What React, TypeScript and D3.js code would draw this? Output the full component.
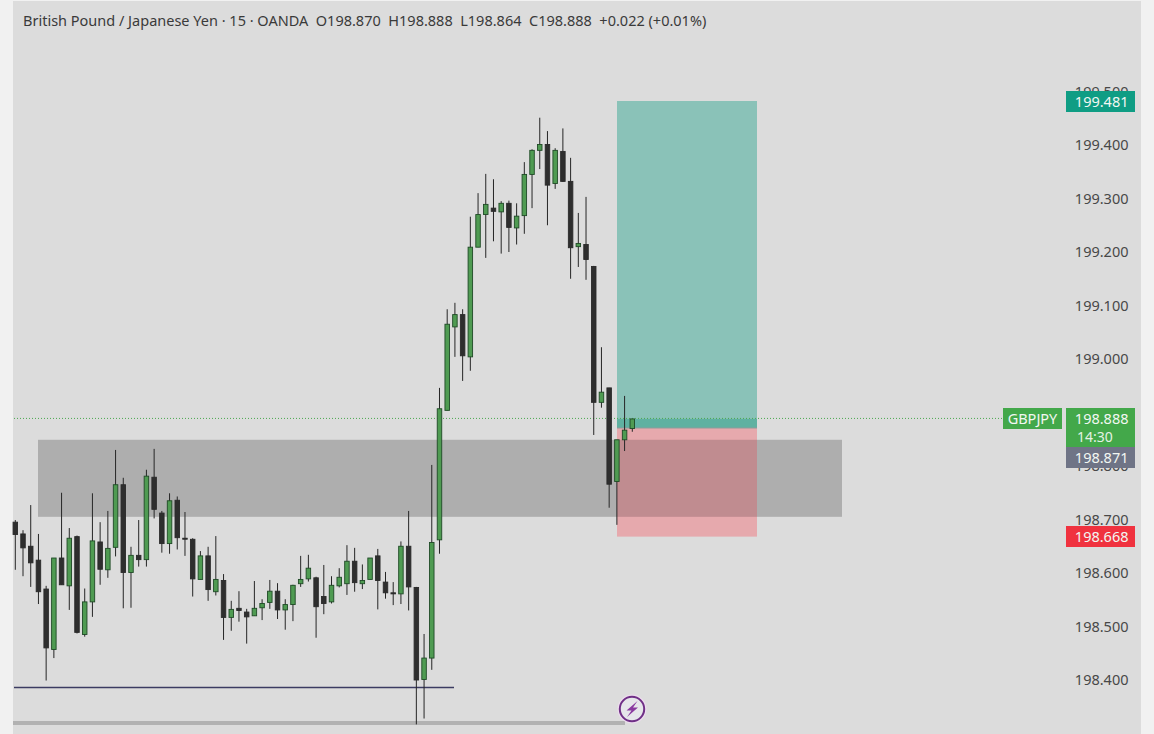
import React from "react";
import * as d3 from "d3";

const title = "British Pound / Japanese Yen · 15 · OANDA  O198.870  H198.888  L198.864  C198.888  +0.022 (+0.01%)";
const tickValues = [199.5, 199.4, 199.3, 199.2, 199.1, 199.0, 198.9, 198.8, 198.7, 198.6, 198.5, 198.4];

const opens = [198.695,198.673,198.650,198.624,198.570,198.457,198.628,198.576,198.668,198.485,198.546,198.658,198.606,198.648,198.765,198.601,198.633,198.625,198.779,198.712,198.655,198.736,198.665,198.663,198.588,198.632,198.565,198.586,198.517,198.534,198.527,198.520,198.535,198.545,198.566,198.531,198.541,198.580,198.589,198.591,198.556,198.546,198.576,198.580,198.622,198.580,198.588,198.632,198.583,198.563,198.561,198.650,198.573,198.401,198.441,198.662,198.904,199.060,199.083,199.004,199.209,199.270,199.282,199.275,199.291,199.245,199.268,199.345,199.390,199.401,199.328,199.388,199.332,199.210,199.214,199.173,198.919,198.946,198.771,198.849,198.870];
const highs = [198.699,198.680,198.727,198.673,198.576,198.628,198.750,198.684,198.670,198.571,198.749,198.695,198.716,198.830,198.778,198.649,198.699,198.793,198.832,198.716,198.749,198.743,198.714,198.665,198.641,198.649,198.669,198.598,198.548,198.566,198.533,198.585,198.551,198.587,198.581,198.551,198.578,198.632,198.634,198.593,198.615,198.594,198.609,198.652,198.647,198.616,198.628,198.645,198.602,198.583,198.659,198.716,198.574,198.486,198.802,198.946,199.093,199.105,199.093,199.266,199.310,199.346,199.336,199.295,199.296,199.291,199.368,199.392,199.451,199.426,199.394,199.431,199.376,199.273,199.303,199.174,199.022,198.946,198.849,198.931,198.888];
const lows = [198.606,198.594,198.574,198.542,198.399,198.441,198.578,198.531,198.487,198.481,198.518,198.578,198.591,198.631,198.534,198.535,198.612,198.612,198.702,198.638,198.636,198.644,198.632,198.556,198.588,198.548,198.558,198.475,198.492,198.509,198.468,198.520,198.512,198.533,198.514,198.494,198.510,198.574,198.584,198.479,198.523,198.543,198.573,198.559,198.565,198.570,198.588,198.532,198.552,198.540,198.542,198.530,198.317,198.328,198.419,198.636,198.904,199.004,198.959,198.978,199.209,199.189,199.220,199.197,199.200,199.214,199.234,199.282,199.355,199.250,199.318,199.331,199.150,199.172,199.148,198.858,198.909,198.722,198.690,198.828,198.864];
const closes = [198.672,198.647,198.619,198.565,198.460,198.628,198.578,198.665,198.489,198.546,198.660,198.607,198.646,198.765,198.601,198.633,198.625,198.781,198.719,198.655,198.735,198.666,198.664,198.589,198.632,198.569,198.588,198.517,198.532,198.530,198.518,198.534,198.543,198.566,198.531,198.541,198.577,198.588,198.609,198.537,198.543,198.577,198.592,198.622,198.582,198.586,198.628,198.586,198.563,198.561,198.650,198.574,198.400,198.441,198.657,198.907,199.065,199.083,199.006,199.209,199.270,199.289,199.276,199.291,199.246,199.267,199.345,199.390,199.401,199.325,199.390,199.332,199.208,199.216,199.186,198.919,198.938,198.766,198.849,198.867,198.888];

const targetPrice = 199.481;
const entryPrice = 198.871;
const stopPrice = 198.668;
const lastPrice = 198.888;
const zoneTop = 198.849;
const zoneBottom = 198.705;
const supportPrice = 198.386;

const y = d3.scaleLinear().domain([199.4, 198.4]).range([145, 680]);
const x = d3.scaleLinear().domain([0, 80]).range([15.3, 632.3]);

const GREEN = "#4f9b52";
const DARK = "#2e2e2e";
const font = "'Noto Sans', sans-serif";

function Badge({ x0, y0, w, h, fill, text, tx, anchor = "end", color = "#f2f7f2" }: any) {
  return (
    <g>
      <rect x={x0} y={y0} width={w} height={h} fill={fill} />
      {text && (
        <text x={tx} y={y0 + h / 2 + 5} textAnchor={anchor} fontSize={14.5} fontFamily={font} fill={color}>
          {text}
        </text>
      )}
    </g>
  );
}

export default function App() {
  return (
    <svg
      width={1154}
      height={734}
      style={{ position: "fixed", left: 0, top: 0, display: "block" }}
    >
      <rect width={1154} height={734} fill="#f1f1f1" />
      <rect x={13} y={1} width={1128} height={733} fill="#dcdcdc" />

      {/* zone */}
      <rect x={38} y={y(zoneTop)} width={804} height={y(zoneBottom) - y(zoneTop)} fill="#aeaeae" />

      {/* position tool */}
      <rect x={617} y={Math.floor(y(targetPrice))} width={140} height={y(entryPrice) - Math.floor(y(targetPrice))} fill="#8ac2b8" />
      <rect x={617} y={y(lastPrice)} width={140} height={y(entryPrice) - y(lastPrice)} fill="#5fb1a1" />
      <rect x={617} y={y(entryPrice)} width={140} height={y(stopPrice) - y(entryPrice)} fill="#e6a9ad" />
      <rect x={617} y={y(zoneTop)} width={140} height={y(zoneBottom) - y(zoneTop)} fill="#c08c90" />
      <line x1={617} x2={757} y1={y(entryPrice)} y2={y(entryPrice)} stroke="#8f9a9a" strokeWidth={1} />

      {/* last price line */}
      <line x1={14} x2={1003} y1={y(lastPrice) - 0.5} y2={y(lastPrice) - 0.5} stroke="#4aa84f" strokeWidth={1} strokeDasharray="1 2" />

      {/* support lines */}
      <line x1={14} x2={454} y1={y(supportPrice)} y2={y(supportPrice)} stroke="#3c3c62" strokeWidth={1.5} />
      <rect x={13} y={721} width={612} height={4} fill="#b2b2b2" />

      {/* candles */}
      {opens.map((o, i) => {
        const c = closes[i];
        const up = c > o;
        const top = y(Math.max(o, c));
        const bot = y(Math.min(o, c));
        const cx = x(i);
        return (
          <g key={i}>
            <line x1={cx} x2={cx} y1={y(highs[i])} y2={y(lows[i])} stroke="#262626" strokeWidth={1} />
            <rect
              x={cx - 2.25}
              y={top}
              width={4.5}
              height={Math.max(bot - top, 1)}
              fill={up ? GREEN : DARK}
              stroke={up ? "#1f4a26" : "#2a2a2a"}
              strokeWidth={0.9}
            />
          </g>
        );
      })}

      {/* axis labels */}
      {tickValues.map((t) => (
        <text key={t} x={1128.5} y={y(t) + 5} textAnchor="end" fontSize={14.5} fontFamily={font} fill="#484848">
          {d3.format(".3f")(t)}
        </text>
      ))}

      {/* badges */}
      <Badge x0={1066} y0={91} w={69} h={21} fill="#0f9d84" text={d3.format(".3f")(targetPrice)} tx={1128.5} />
      <Badge x0={1003} y0={408} w={59} h={21} fill="#43a84a" text="GBPJPY" tx={1032.5} anchor="middle" />
      <rect x={1066} y={408} width={69} height={39} fill="#43a84a" />
      <text x={1128.5} y={424} textAnchor="end" fontSize={14.5} fontFamily={font} fill="#f2f7f2">{d3.format(".3f")(lastPrice)}</text>
      <text x={1077} y={442} fontSize={14} fontFamily={font} fill="#e4f2e4">14:30</text>
      <Badge x0={1066} y0={447} w={69} h={21} fill="#6f7486" text={d3.format(".3f")(entryPrice)} tx={1128.5} />
      <Badge x0={1066} y0={526} w={69} h={21} fill="#f0323f" text={d3.format(".3f")(stopPrice)} tx={1128.5} />

      {/* title */}
      <text x={23} y={26} fontSize={14.5} fontFamily={font} fill="#3a3a3a" style={{ whiteSpace: "pre" }}>
        {title}
      </text>

      {/* lightning button */}
      <circle cx={632} cy={709} r={14.5} fill="#f3dcf5" fillOpacity={0.7} />
      <circle cx={632} cy={709} r={12.2} fill="#e6e6ea" stroke="#6f2f86" strokeWidth={2} />
      <path d="M637.5 701 L626.5 710.5 L631.5 710.5 L627 717 L638 707.5 L633 707.5 Z" fill="#8a3aa0" />
    </svg>
  );
}
